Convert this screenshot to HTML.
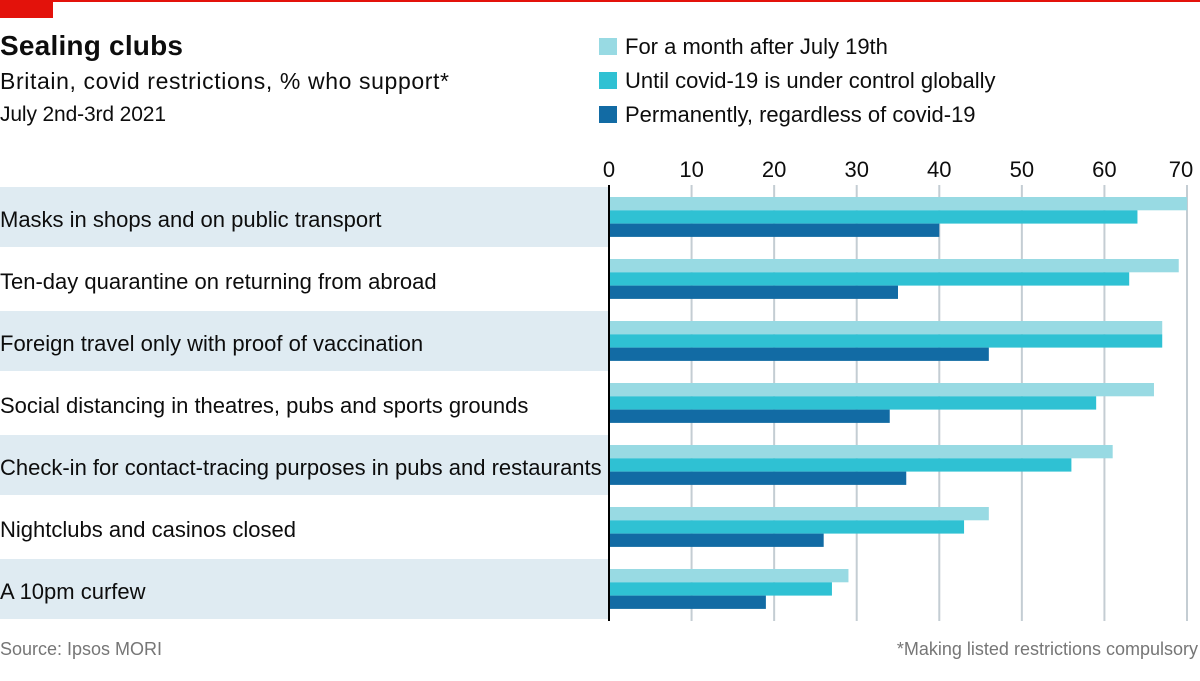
<!DOCTYPE html>
<html><head><meta charset="utf-8"><style>
body{margin:0;background:#fff;}
svg text{font-family:"Liberation Sans",sans-serif;}
</style></head><body>
<svg id="c" width="1200" height="676" viewBox="0 0 1200 676" xmlns="http://www.w3.org/2000/svg">
<rect x="0" y="0" width="1200" height="2" fill="#e3120b"/>
<rect x="0" y="0" width="53" height="18" fill="#e3120b"/>
<text x="0" y="55" font-size="28" font-weight="bold" fill="#0d0d0d" textLength="183">Sealing clubs</text>
<text x="0" y="89" font-size="23" fill="#0d0d0d" textLength="449">Britain, covid restrictions, % who support*</text>
<text x="0" y="121" font-size="21" fill="#0d0d0d" textLength="166">July 2nd-3rd 2021</text>
<g id="legend"></g>
<g id="bands"></g>
<g id="grid"></g>
<g id="bars"></g>
<line x1="609" y1="185" x2="609" y2="621" stroke="#000" stroke-width="2"/>
<text x="0" y="655" font-size="18" fill="#767676">Source: Ipsos MORI</text>
<text x="1198" y="655" font-size="18" fill="#767676" text-anchor="end">*Making listed restrictions compulsory</text>
</svg>
<script>
const categories=["Masks in shops and on public transport","Ten-day quarantine on returning from abroad","Foreign travel only with proof of vaccination","Social distancing in theatres, pubs and sports grounds","Check-in for contact-tracing purposes in pubs and restaurants","Nightclubs and casinos closed","A 10pm curfew"];
const seriesNames=["For a month after July 19th","Until covid-19 is under control globally","Permanently, regardless of covid-19"];
const monthValues=[70,69,67,66,61,46,29];
const globalValues=[64,63,67,59,56,43,27];
const permValues=[40,35,46,34,36,26,19];
const ticks=[0,10,20,30,40,50,60,70];
const colors=["#98dae3","#2fc1d3","#126ba4"];
const NS="http://www.w3.org/2000/svg";
const x=v=>609+v*(1187-609)/70;
const rowY=i=>187+i*62;
function mk(tag,attrs,parent){const e=document.createElementNS(NS,tag);for(const k in attrs)e.setAttribute(k,attrs[k]);document.getElementById(parent).appendChild(e);return e;}
seriesNames.forEach((n,i)=>{
  const r=mk('rect',{x:599,y:38+i*34,width:18,height:17,fill:colors[i]},'legend');
  
  
  const t=mk('text',{x:625,y:54+i*34,'font-size':22,fill:'#0d0d0d'},'legend');
  t.textContent=n;
  
  
});
categories.forEach((c,i)=>{
  if(i%2===0){const b=mk('rect',{x:0,y:rowY(i),width:609,height:60,fill:'#dfebf2'},'bands');
  
  }
  const t=mk('text',{x:0,y:rowY(i)+40,'font-size':22,fill:'#0d0d0d'},'bands');
  t.textContent=c;
  
  
});
ticks.forEach(v=>{
  if(v>0){const l=mk('line',{x1:x(v),y1:185,x2:x(v),y2:621,stroke:'#c4cdd3','stroke-width':2},'grid');
  
  }
  const t=mk('text',{x:x(v)-(v===70?6:0),y:177,'font-size':22,fill:'#0d0d0d','text-anchor':'middle'},'grid');
  t.textContent=v;
  
  
});
[monthValues,globalValues,permValues].forEach((vals,s)=>{
  vals.forEach((v,i)=>{
    const r=mk('rect',{x:x(0),y:rowY(i)+10+s*13.3,width:x(v)-x(0),height:13.3,fill:colors[s]},'bars');
    
    
  });
});
</script>
</body></html>
